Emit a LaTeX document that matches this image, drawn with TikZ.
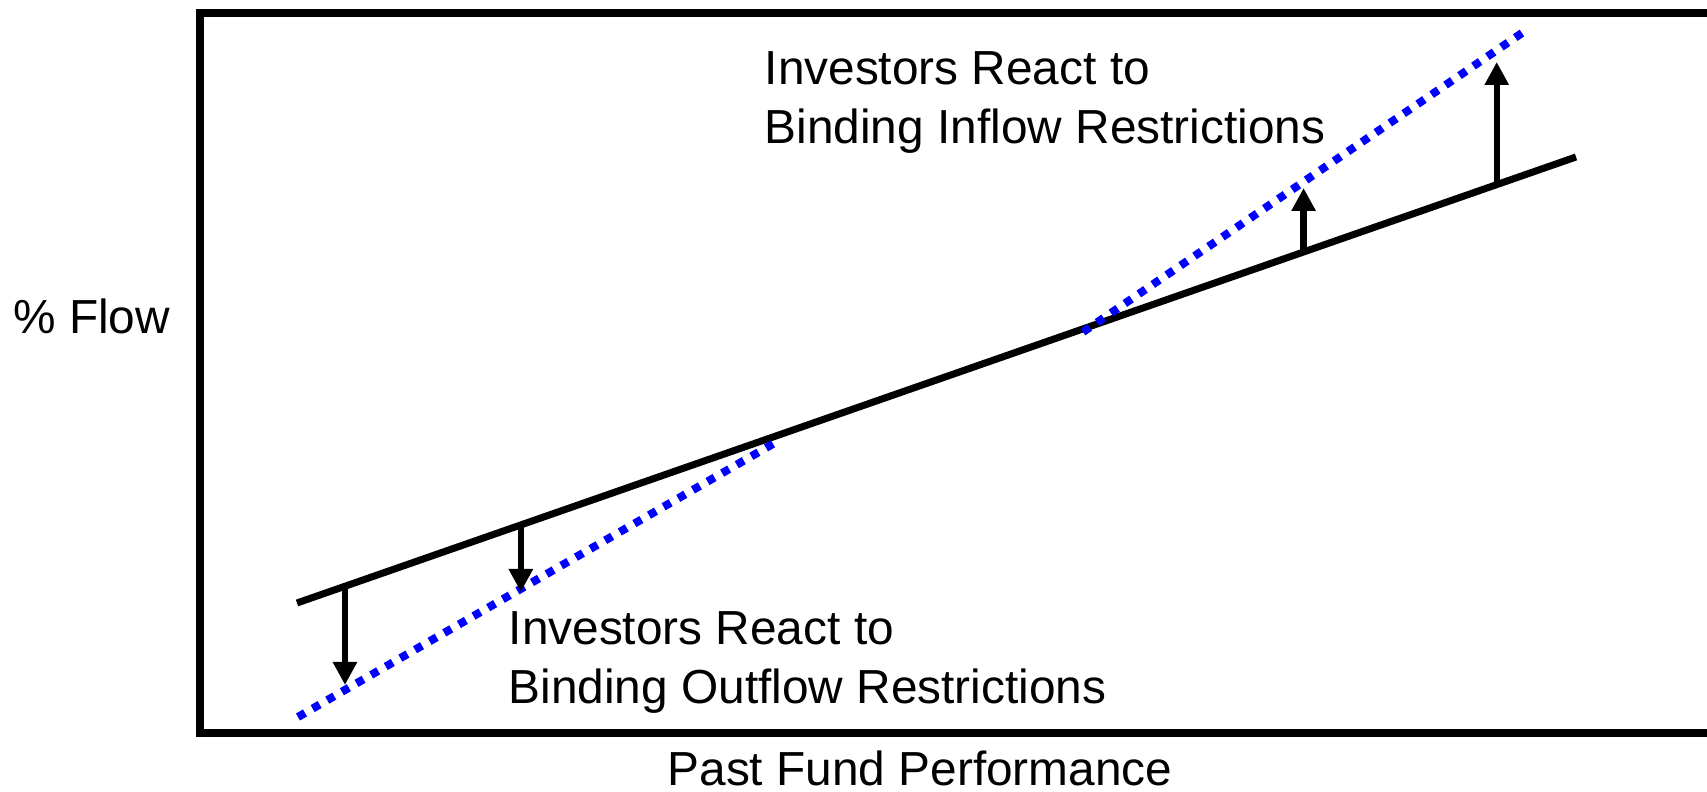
\documentclass[tikz,border=0pt]{standalone}
\usepackage{fontspec}
\setmainfont{Liberation Sans}
\usetikzlibrary{arrows}
\usetikzlibrary{arrows.meta}
\usetikzlibrary{calc}
\usepackage{xcolor}

\begin{document}
\begin{tikzpicture}[
    font=\fontsize{13.6}{16.8}\selectfont,
    flowline/.style={line width=2pt},
    reactline/.style={line width=2.3pt, blue, dash pattern=on 2.3pt off 2.5pt},
    reactarrow/.style={line width=1.8pt, -{Triangle[width=0.23cm,length=0.23cm]}}
  ]

        \useasboundingbox (0,0) rectangle (17.07,7.92);

        % Frame
        \draw[line width=2.1pt] (17.07,7.79) -- (2.00,7.79) -- (2.00,0.59) -- (17.07,0.59);

        % Labels of the axes
        \node[anchor=base west] (flow) at (0.01,4.58) {\% Flow};
        \node[anchor=base] (perf) at (9.20,0.06) {Past Fund Performance};

        % Flow line
        \draw[flowline] (2.97,1.89) -- (15.76,6.35)
          coordinate[pos=0.0375] (S1)
          coordinate[pos=0.175] (S2)
          coordinate[pos=0.787] (S3)
          coordinate[pos=0.938] (S4);

        % Reaction lines
        \draw[reactline] (2.98,0.75) -- (7.78,3.51);
        \draw[reactline] (10.83,4.60) -- (15.22,7.59);

        % Arrows
        \coordinate (T1) at ($(S1|-0,1.07)$);
        \coordinate (T2) at ($(S2|-0,2.00)$);
        \coordinate (T3) at ($(S3|-0,6.04)$);
        \coordinate (T4) at ($(S4|-0,7.30)$);
        \foreach \i in {1,2,...,4}
        {
          \draw[reactarrow] (S\i) -- (T\i);
        }

        % Texts
        \node[anchor=west, align=left, inner sep=0pt] (inflow) at (7.64,6.89)
          {Investors React to\\Binding Inflow Restrictions};
        \node[anchor=west, align=left, inner sep=0pt] (outflow) at (5.08,1.29)
          {Investors React to\\Binding Outflow Restrictions};
    \end{tikzpicture}
\end{document}
